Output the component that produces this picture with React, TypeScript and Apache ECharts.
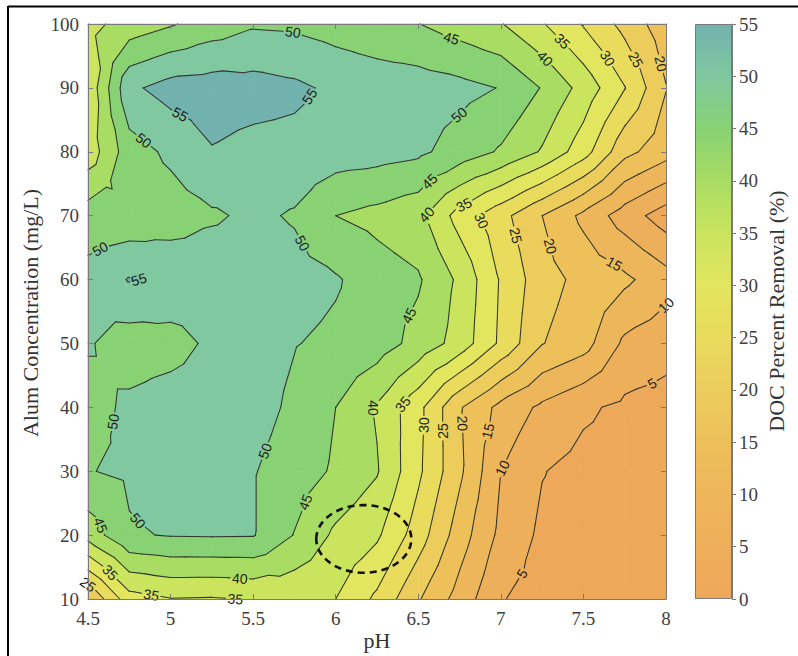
import React, { useEffect, useRef } from "react";
import * as echarts from "echarts";

// Grid of measured/interpolated DOC removal, rows = alum dose, columns = pH
const PH_VALUES = [4.5, 4.75, 5, 5.25, 5.5, 5.75, 6, 6.25, 6.5, 6.75, 7, 7.25, 7.5, 7.75, 8];
const ALUM_DOSES = [10, 20, 30, 40, 50, 60, 70, 80, 90, 100];

const REMOVAL_ALUM_10 = [20, 33, 34.8, 34.6, 35.3, 36, 35, 29, 20.5, 13, 5.3, 3, 2.8, 2.8, 2.8];
const REMOVAL_ALUM_20 = [42, 49.5, 50.3, 50.4, 50.3, 44.8, 39, 35.8, 27.5, 17.5, 8.7, 4, 3, 2.8, 2.8];
const REMOVAL_ALUM_30 = [49.8, 50.8, 52, 52, 50.3, 47.5, 44.3, 40.4, 31, 21, 10, 5.2, 3.5, 3, 3];
const REMOVAL_ALUM_40 = [48, 51, 52.5, 53, 52, 49, 45, 39.5, 31.5, 20.5, 13.5, 9, 5.8, 4, 3];
const REMOVAL_ALUM_50 = [50.5, 47.5, 48, 51, 52.5, 50.2, 49, 47.5, 43.3, 38, 29, 20.2, 17, 9, 7];
const REMOVAL_ALUM_60 = [51.5, 55.3, 54, 53.5, 53, 52, 50.5, 47.5, 45.6, 39, 29.5, 22, 18.5, 16, 12];
const REMOVAL_ALUM_70 = [47.5, 46.5, 47.5, 49.3, 51, 49.5, 45, 43.5, 41.5, 33, 26.7, 20, 13.8, 7.5, 2.5];
const REMOVAL_ALUM_80 = [37, 47.8, 51, 54.7, 53.5, 53.5, 52.5, 52, 51, 47.9, 44.4, 39.5, 32.2, 21.5, 17];
const REMOVAL_ALUM_90 = [36, 54, 57, 57.5, 57, 56, 54, 53, 52.5, 51.5, 49.8, 44.7, 38.2, 30.2, 20.2];
const REMOVAL_ALUM_100 = [38.5, 42, 44.5, 47.3, 49.4, 49.1, 47.8, 46.4, 45.1, 42.7, 40.3, 35.4, 29.6, 23.4, 17];

const REMOVAL_ROWS = [
  REMOVAL_ALUM_10,
  REMOVAL_ALUM_20,
  REMOVAL_ALUM_30,
  REMOVAL_ALUM_40,
  REMOVAL_ALUM_50,
  REMOVAL_ALUM_60,
  REMOVAL_ALUM_70,
  REMOVAL_ALUM_80,
  REMOVAL_ALUM_90,
  REMOVAL_ALUM_100,
];

// Filled-contour levels (each band takes the colour of its lower level)
const LEVELS = [0, 5, 10, 15, 20, 25, 30, 35, 40, 45, 50, 55];
const LINE_LEVELS = [5, 10, 15, 20, 25, 30, 35, 40, 45, 50, 55];

// Inline contour labels: [level, pH, alum] (snapped to the nearest line of that level)
const CONTOUR_LABELS: [number, number, number][] = [
  [50, 5.74, 98.6],
  [45, 6.71, 98.6],
  [40, 7.26, 94.4],
  [35, 7.36, 97.0],
  [30, 7.62, 94.2],
  [25, 7.78, 93.9],
  [20, 7.94, 93.6],
  [55, 5.84, 88.7],
  [55, 5.03, 84.5],
  [50, 4.86, 82.5],
  [50, 6.78, 84.8],
  [45, 6.56, 75.6],
  [50, 5.82, 66.0],
  [40, 6.54, 70.4],
  [35, 6.78, 71.5],
  [30, 6.88, 69.2],
  [25, 7.06, 66.7],
  [20, 7.28, 65.1],
  [15, 7.69, 62.6],
  [10, 7.97, 57.1],
  [50, 4.58, 64.5],
  [55, 4.85, 59.9],
  [50, 4.62, 37.9],
  [50, 5.57, 33.2],
  [45, 6.52, 53.4],
  [40, 6.23, 39.9],
  [35, 6.41, 40.4],
  [30, 6.54, 37.2],
  [25, 6.64, 36.3],
  [20, 6.76, 37.5],
  [15, 6.92, 36.3],
  [10, 7.05, 30.0],
  [5, 7.07, 14.9],
  [5, 7.91, 44.0],
  [45, 5.91, 24.2],
  [50, 4.8, 22.2],
  [45, 4.58, 21.6],
  [40, 5.42, 13.4],
  [35, 4.88, 10.2],
  [35, 5.58, 11.7],
  [25, 4.51, 14.2],
  [35, 4.62, 13.8],
];

// Highlighted operating region (dashed ellipse): centre pH / alum and half-widths
const HIGHLIGHT_CENTER = [6.17, 19.4];
const HIGHLIGHT_RADII = [0.288, 5.3];

const CMAP_STOPS: [number, number[]][] = [
  [0, [238, 168, 90]],
  [5, [238, 175, 90]],
  [10, [238, 182, 90]],
  [15, [237, 192, 90]],
  [20, [236, 205, 92]],
  [25, [233, 219, 92]],
  [30, [226, 230, 94]],
  [35, [202, 228, 94]],
  [40, [168, 220, 98]],
  [45, [136, 210, 116]],
  [50, [128, 200, 160]],
  [55, [114, 178, 174]],
];

function cmapRgb(v: number): number[] {
  if (v <= CMAP_STOPS[0][0]) return CMAP_STOPS[0][1];
  for (let i = 0; i < CMAP_STOPS.length - 1; i++) {
    const [a, ca] = CMAP_STOPS[i];
    const [b, cb] = CMAP_STOPS[i + 1];
    if (v <= b) {
      const f = (v - a) / (b - a);
      return ca.map((c, k) => c + f * (cb[k] - c));
    }
  }
  return CMAP_STOPS[CMAP_STOPS.length - 1][1];
}
const rgb = (c: number[]) => `rgb(${c.map((x) => Math.round(x)).join(",")})`;
const cmap = (v: number) => rgb(cmapRgb(v));

type P = { x: number; y: number; v: number };

function clipPoly(poly: P[], t: number, keepAbove: boolean): P[] {
  const out: P[] = [];
  for (let i = 0; i < poly.length; i++) {
    const A = poly[i];
    const B = poly[(i + 1) % poly.length];
    const ina = keepAbove ? A.v >= t : A.v <= t;
    const inb = keepAbove ? B.v >= t : B.v <= t;
    if (ina) out.push(A);
    if (ina !== inb) {
      const f = (t - A.v) / (B.v - A.v);
      out.push({ x: A.x + f * (B.x - A.x), y: A.y + f * (B.y - A.y), v: t });
    }
  }
  return out;
}

// Remove the part of a segment lying inside a circle (gap behind an inline label)
function cutSegment(s: number[], cx: number, cy: number, r: number): number[][] {
  const dx = s[2] - s[0], dy = s[3] - s[1];
  const fx = s[0] - cx, fy = s[1] - cy;
  const a = dx * dx + dy * dy;
  if (a < 1e-9) return [s];
  const b = 2 * (dx * fx + dy * fy);
  const c = fx * fx + fy * fy - r * r;
  const disc = b * b - 4 * a * c;
  if (disc <= 0) return [s];
  const sq = Math.sqrt(disc);
  const t1 = (-b - sq) / (2 * a);
  const t2 = (-b + sq) / (2 * a);
  if (t1 >= 1 || t2 <= 0) return [s];
  const out: number[][] = [];
  if (t1 > 0) out.push([s[0], s[1], s[0] + t1 * dx, s[1] + t1 * dy]);
  if (t2 < 1) out.push([s[0] + t2 * dx, s[1] + t2 * dy, s[2], s[3]]);
  return out;
}

const SERIF = '"Liberation Serif", "Times New Roman", Times, serif';
const LABEL_FONT = 14;

function renderContours(_params: any, api: any) {
  const pts: P[][] = ALUM_DOSES.map((a, j) =>
    PH_VALUES.map((p, i) => {
      const c = api.coord([p, a]);
      return { x: c[0], y: c[1], v: REMOVAL_ROWS[j][i] + 1e-3 };
    })
  );
  const tris: P[][] = [];
  for (let j = 0; j < ALUM_DOSES.length - 1; j++) {
    for (let i = 0; i < PH_VALUES.length - 1; i++) {
      const a = pts[j][i], b = pts[j][i + 1], c = pts[j + 1][i + 1], d = pts[j + 1][i];
      const m = {
        x: (a.x + b.x + c.x + d.x) / 4,
        y: (a.y + b.y + c.y + d.y) / 4,
        v: (a.v + b.v + c.v + d.v) / 4,
      };
      tris.push([a, b, m], [b, c, m], [c, d, m], [d, a, m]);
    }
  }

  const children: any[] = [];

  // filled bands
  for (const tri of tris) {
    const vmin = Math.min(tri[0].v, tri[1].v, tri[2].v);
    const vmax = Math.max(tri[0].v, tri[1].v, tri[2].v);
    for (let k = 0; k < LEVELS.length; k++) {
      const lo = LEVELS[k];
      const hi = k + 1 < LEVELS.length ? LEVELS[k + 1] : Infinity;
      if (vmax < lo || vmin >= hi) continue;
      let poly = tri;
      if (vmin < lo) poly = clipPoly(poly, lo, true);
      if (vmax > hi) poly = clipPoly(poly, hi, false);
      if (poly.length < 3) continue;
      const col = cmap(lo);
      children.push({
        type: "polygon",
        shape: { points: poly.map((p) => [p.x, p.y]) },
        style: { fill: col, stroke: col, lineWidth: 0.9 },
      });
    }
  }

  // contour segments per level
  const segsByLevel: Record<number, number[][]> = {};
  for (const L of LINE_LEVELS) {
    const segs: number[][] = [];
    for (const tri of tris) {
      const cross: number[][] = [];
      for (let e = 0; e < 3; e++) {
        const A = tri[e];
        const B = tri[(e + 1) % 3];
        if ((A.v - L) * (B.v - L) < 0) {
          const f = (L - A.v) / (B.v - A.v);
          cross.push([A.x + f * (B.x - A.x), A.y + f * (B.y - A.y)]);
        }
      }
      if (cross.length === 2) segs.push([cross[0][0], cross[0][1], cross[1][0], cross[1][1]]);
    }
    segsByLevel[L] = segs;
  }

  // label placement, snapped onto the nearest line of the same level
  const placed: { L: number; x: number; y: number; ang: number; r: number }[] = [];
  for (const [L, ph, al] of CONTOUR_LABELS) {
    const target = api.coord([ph, al]);
    let best: any = null;
    for (const s of segsByLevel[L] || []) {
      const dx = s[2] - s[0], dy = s[3] - s[1];
      const len2 = dx * dx + dy * dy || 1e-9;
      let t = ((target[0] - s[0]) * dx + (target[1] - s[1]) * dy) / len2;
      t = Math.max(0, Math.min(1, t));
      const px = s[0] + t * dx, py = s[1] + t * dy;
      const d = (px - target[0]) ** 2 + (py - target[1]) ** 2;
      if (!best || d < best.d) best = { d, px, py, dx, dy };
    }
    if (!best) continue;
    let ang = Math.atan2(-best.dy, best.dx);
    if (ang > Math.PI / 2) ang -= Math.PI;
    if (ang <= -Math.PI / 2) ang += Math.PI;
    const halfW = (String(L).length * 0.556 * LABEL_FONT) / 2;
    placed.push({ L, x: best.px, y: best.py, ang, r: halfW + 2 });
  }

  // contour lines, broken where labels sit
  for (const L of LINE_LEVELS) {
    let segs = segsByLevel[L];
    for (const lb of placed) {
      if (lb.L !== L) continue;
      const next: number[][] = [];
      for (const s of segs) next.push(...cutSegment(s, lb.x, lb.y, lb.r));
      segs = next;
    }
    for (const s of segs) {
      children.push({
        type: "line",
        shape: { x1: s[0], y1: s[1], x2: s[2], y2: s[3] },
        style: { stroke: "#30342a", lineWidth: 1.05, lineCap: "round" },
      });
    }
  }

  for (const lb of placed) {
    children.push({
      type: "text",
      x: lb.x,
      y: lb.y,
      rotation: lb.ang,
      style: {
        text: String(lb.L),
        fill: "#1c1c1c",
        fontSize: LABEL_FONT,
        fontFamily: '"Liberation Sans", Arial, sans-serif',
        align: "center",
        verticalAlign: "middle",
      },
    });
  }

  // highlighted region
  const c = api.coord(HIGHLIGHT_CENTER);
  const r = api.size(HIGHLIGHT_RADII);
  children.push({
    type: "ellipse",
    shape: { cx: c[0], cy: c[1], rx: r[0], ry: r[1] },
    style: { fill: null, stroke: "#111", lineWidth: 2.6, lineDash: [7, 5] },
  });

  return { type: "group", children };
}

const axisGray = "#7a7a7a";
const tickText = { color: "#404040", fontFamily: SERIF, fontSize: 19 };

function buildOption(): any {
  const cbStops = LEVELS.slice()
    .reverse()
    .map((v) => ({ offset: 1 - v / 55, color: cmap(v) }));
  return {
    animation: false,
    backgroundColor: "#ffffff",
    grid: [
      { left: 88, top: 24, width: 578, height: 575, show: false },
      { left: 695, top: 24, width: 37, height: 575, show: false },
    ],
    xAxis: [
      {
        type: "value", gridIndex: 0, min: 4.5, max: 8, interval: 0.5, position: "bottom", z: 10,
        axisLine: { show: true, onZero: false, lineStyle: { color: axisGray, width: 1 } },
        axisTick: { show: true, inside: true, length: 5, lineStyle: { color: axisGray } },
        axisLabel: { ...tickText, margin: 10 },
        splitLine: { show: false },
      },
      {
        type: "value", gridIndex: 0, min: 4.5, max: 8, interval: 0.5, position: "top", z: 10,
        axisLine: { show: true, onZero: false, lineStyle: { color: axisGray, width: 1 } },
        axisTick: { show: true, inside: true, length: 5, lineStyle: { color: axisGray } },
        axisLabel: { show: false },
        splitLine: { show: false },
      },
      { type: "category", gridIndex: 1, data: [""], show: false },
    ],
    yAxis: [
      {
        type: "value", gridIndex: 0, min: 10, max: 100, interval: 10, position: "left", z: 10,
        axisLine: { show: true, onZero: false, lineStyle: { color: axisGray, width: 1 } },
        axisTick: { show: true, inside: true, length: 5, lineStyle: { color: axisGray } },
        axisLabel: { ...tickText, margin: 9 },
        splitLine: { show: false },
      },
      {
        type: "value", gridIndex: 0, min: 10, max: 100, interval: 10, position: "right", z: 10,
        axisLine: { show: true, onZero: false, lineStyle: { color: axisGray, width: 1 } },
        axisTick: { show: true, inside: true, length: 5, lineStyle: { color: axisGray } },
        axisLabel: { show: false },
        splitLine: { show: false },
      },
      {
        type: "value", gridIndex: 1, min: 0, max: 55, interval: 5, position: "right", z: 10,
        axisLine: { show: true, lineStyle: { color: axisGray, width: 1 } },
        axisTick: { show: true, inside: false, length: 4, lineStyle: { color: axisGray } },
        axisLabel: { ...tickText, margin: 7 },
        splitLine: { show: false },
      },
    ],
    series: [
      {
        type: "custom",
        coordinateSystem: "cartesian2d",
        xAxisIndex: 0,
        yAxisIndex: 0,
        data: [[4.5, 10]],
        renderItem: renderContours,
        clip: false,
        silent: true,
      },
      {
        type: "bar",
        xAxisIndex: 2,
        yAxisIndex: 2,
        data: [55],
        barWidth: "100%",
        silent: true,
        itemStyle: {
          color: new echarts.graphic.LinearGradient(0, 0, 0, 1, cbStops),
          borderColor: axisGray,
          borderWidth: 1,
        },
      },
    ],
    graphic: [
      {
        type: "text", x: 30, y: 313, rotation: Math.PI / 2,
        style: { text: "Alum Concentration (mg/L)", fill: "#333", fontFamily: SERIF, fontSize: 22, align: "center", verticalAlign: "middle" },
      },
      {
        type: "text", x: 377, y: 640,
        style: { text: "pH", fill: "#333", fontFamily: SERIF, fontSize: 22, align: "center", verticalAlign: "middle" },
      },
      {
        type: "text", x: 776, y: 311, rotation: Math.PI / 2,
        style: { text: "DOC Percent Removal (%)", fill: "#333", fontFamily: SERIF, fontSize: 22, align: "center", verticalAlign: "middle" },
      },
      { type: "line", shape: { x1: 8, y1: 6.5, x2: 798, y2: 6.5 }, style: { stroke: "#000", lineWidth: 2 } },
      { type: "line", shape: { x1: 8, y1: 6, x2: 8, y2: 656 }, style: { stroke: "#000", lineWidth: 2 } },
    ],
  };
}

export default function App() {
  const ref = useRef<HTMLDivElement>(null);
  useEffect(() => {
    if (!ref.current) return;
    const chart = echarts.init(ref.current, undefined, { renderer: "svg" });
    chart.setOption(buildOption());
    return () => chart.dispose();
  }, []);
  return (
    <div
      ref={ref}
      style={{ position: "fixed", left: 0, top: 0, width: 798, height: 656, background: "#fff" }}
    />
  );
}
